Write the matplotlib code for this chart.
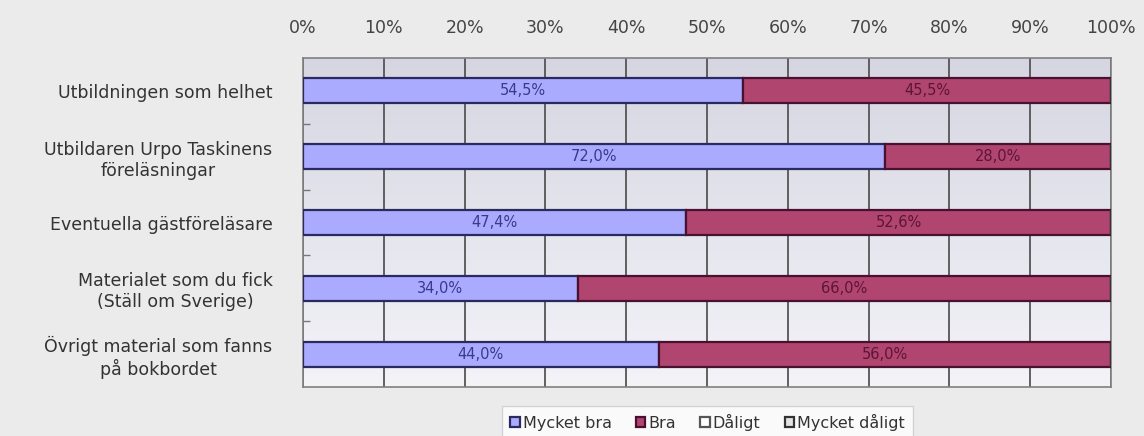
import numpy as np
import matplotlib
matplotlib.use("Agg")
import matplotlib.pyplot as plt
from matplotlib.ticker import FixedLocator

# ---- data ----
categories = [
    "Utbildningen som helhet",
    "Utbildaren Urpo Taskinens\nföreläsningar",
    "Eventuella gästföreläsare",
    "Materialet som du fick\n(Ställ om Sverige)",
    "Övrigt material som fanns\npå bokbordet",
]
series_names = ["Mycket bra", "Bra", "Dåligt", "Mycket dåligt"]
mycket_bra = [54.5, 72.0, 47.4, 34.0, 44.0]
bra = [45.5, 28.0, 52.6, 66.0, 56.0]
daligt = [0.0, 0.0, 0.0, 0.0, 0.0]
mycket_daligt = [0.0, 0.0, 0.0, 0.0, 0.0]
x_ticks = [0, 10, 20, 30, 40, 50, 60, 70, 80, 90, 100]
x_tick_labels = [f"{t}%" for t in x_ticks]

series = [mycket_bra, bra, daligt, mycket_daligt]
face_colors = ["#aaaaff", "#b0456f", "#ffffff", "#e4e4e4"]
edge_colors = ["#2a2a5e", "#4a1030", "#555555", "#333333"]
text_colors = ["#3a3a8c", "#5c1536", "#333333", "#333333"]

W, H = 1144, 436
fig = plt.figure(figsize=(W / 100, H / 100), dpi=100)
fig.patch.set_facecolor("#ebebeb")
left, right, top, bottom = 303, 1111, 58, 387
ax = fig.add_axes([left / W, 1 - bottom / H, (right - left) / W, (bottom - top) / H])

n = len(categories)
y = np.arange(n)
ax.set_xlim(0, 100)
ax.set_ylim(n - 0.5, -0.5)

# gradient background
grad = np.linspace(0, 1, 256).reshape(-1, 1)
c_top = np.array([214, 214, 226]) / 255
c_bot = np.array([243, 243, 248]) / 255
img = c_top[None, None, :] * (1 - grad[:, :, None]) + c_bot[None, None, :] * grad[:, :, None]
ax.imshow(img, extent=[0, 100, n - 0.5, -0.5], aspect="auto", zorder=0, interpolation="bilinear")

lefts = np.zeros(n)
handles = []
for vals, name, fc, ec, tc in zip(series, series_names, face_colors, edge_colors, text_colors):
    vals = np.array(vals)
    bars = ax.barh(y, vals, left=lefts, height=0.38, color=fc, edgecolor=ec,
                   linewidth=1.6, zorder=3, label=name)
    handles.append(bars)
    for yi, (l, v) in enumerate(zip(lefts, vals)):
        if v > 0:
            ax.text(l + v / 2, yi, f"{v:.1f}%".replace(".", ","), ha="center", va="center",
                    fontsize=10.5, color=tc, zorder=4)
    lefts = lefts + vals

ax.xaxis.tick_top()
ax.set_xticks(x_ticks)
ax.set_xticklabels(x_tick_labels, fontsize=12.5, color="#444444")
ax.tick_params(axis="x", length=0, pad=15)
ax.grid(axis="x", color="#555555", linewidth=1.3, zorder=1)
ax.set_axisbelow(True)

ax.set_yticks(y)
ax.set_yticklabels(categories, fontsize=12.5, color="#333333")
for lbl in ax.get_yticklabels():
    lbl.set_multialignment("center")
ax.tick_params(axis="y", which="major", length=0, pad=22)
ax.yaxis.set_minor_locator(FixedLocator(np.arange(0.5, n - 0.5, 1)))
ax.tick_params(axis="y", which="minor", direction="in", length=5, color="#777777", width=1)

for s in ax.spines.values():
    s.set_color("#808080")
    s.set_linewidth(1.2)

leg = fig.legend(handles=handles, labels=series_names, loc="upper center",
                 bbox_to_anchor=(707.5 / W, 1 - 406 / H), bbox_transform=fig.transFigure,
                 ncol=4, fontsize=11.5, frameon=True, fancybox=False, borderaxespad=0,
                 handlelength=0.6, handleheight=0.6, handletextpad=0.2,
                 columnspacing=1.5, borderpad=0.5, labelcolor="#333333")
leg.get_frame().set_edgecolor("#cccccc")
leg.get_frame().set_facecolor("#ffffff")
leg.get_frame().set_linewidth(1.0)

fig.savefig("out.png", dpi=100, facecolor=fig.get_facecolor())
